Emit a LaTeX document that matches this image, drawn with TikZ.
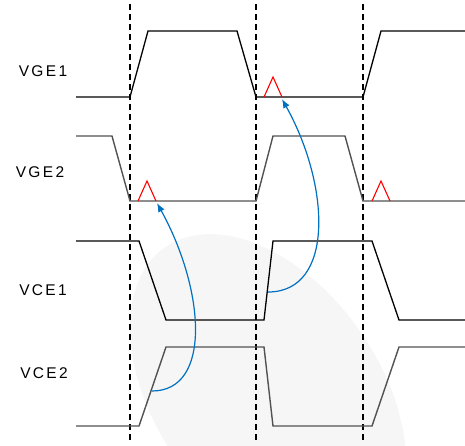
\documentclass[tikz,border=0pt]{standalone}
\usepackage{fontspec}
\setmainfont{Liberation Sans}[LetterSpace=15]
\usetikzlibrary{arrows.meta}
\definecolor{arrowblue}{RGB}{0,112,192}

\begin{document}
\begin{tikzpicture}[x=1pt,y=-1pt,
  wave/.style={line width=1.3pt,black},
  wavegray/.style={line width=1.4pt,black!68},
  spike/.style={line width=1.1pt,red},
  cross/.style={line width=1.2pt,arrowblue,-{Latex[length=9pt,width=7pt]}},
  sig/.style={font=\fontsize{15.5}{18}\selectfont}]
\useasboundingbox (0,0) rectangle (465,445);
% faint background
\begin{scope}
\clip (0,0) rectangle (465,445);
\fill[black!3.5,rotate around={-55:(268,395)}] (268,395) ellipse [x radius=180pt, y radius=112pt];
\end{scope}
% switching instants
\foreach \x in {130,256,363}
  \draw[dash pattern=on 6pt off 4pt,line width=1.1pt] (\x,4) -- (\x,443);
% labels
\node[sig] (vge1) at (43,71) {VGE1};
\node[sig] (vge2) at (40,172) {VGE2};
\node[sig] (vce1) at (43,290) {VCE1};
\node[sig] (vce2) at (44,373) {VCE2};
% waveforms
\draw[wave] (76,97) -- (130,97) -- (148,31) -- (237,31) -- (256,97) -- (363,97) -- (381,31) -- (465,31);
\draw[wavegray] (76,136) -- (112,136) -- (130,201) -- (256,201) -- (273,136) -- (345,136) -- (363,201) -- (465,201);
\draw[wave] (76,241) -- (139,241) -- (166,320) -- (264,320) -- (273,241) -- (372,241) -- (399,320) -- (465,320);
\draw[wavegray] (76,426) -- (139,426) -- (166,347) -- (264,347) -- (273,426) -- (372,426) -- (399,347) -- (465,347);
% induced spikes
\foreach \x/\y in {264/97,138/201,372/201}
  \draw[spike] (\x,\y) -- ++(9,-20) -- ++(9,20);
% coupling
\coordinate (src1) at (152,391);
\coordinate (dst1) at (157,203);
\coordinate (src2) at (268,292);
\coordinate (dst2) at (282,99);
\draw[cross] (src1) .. controls (212,391) and (205,290) .. (dst1);
\draw[cross] (src2) .. controls (335,292) and (330,185) .. (dst2);
\end{tikzpicture}
\end{document}
